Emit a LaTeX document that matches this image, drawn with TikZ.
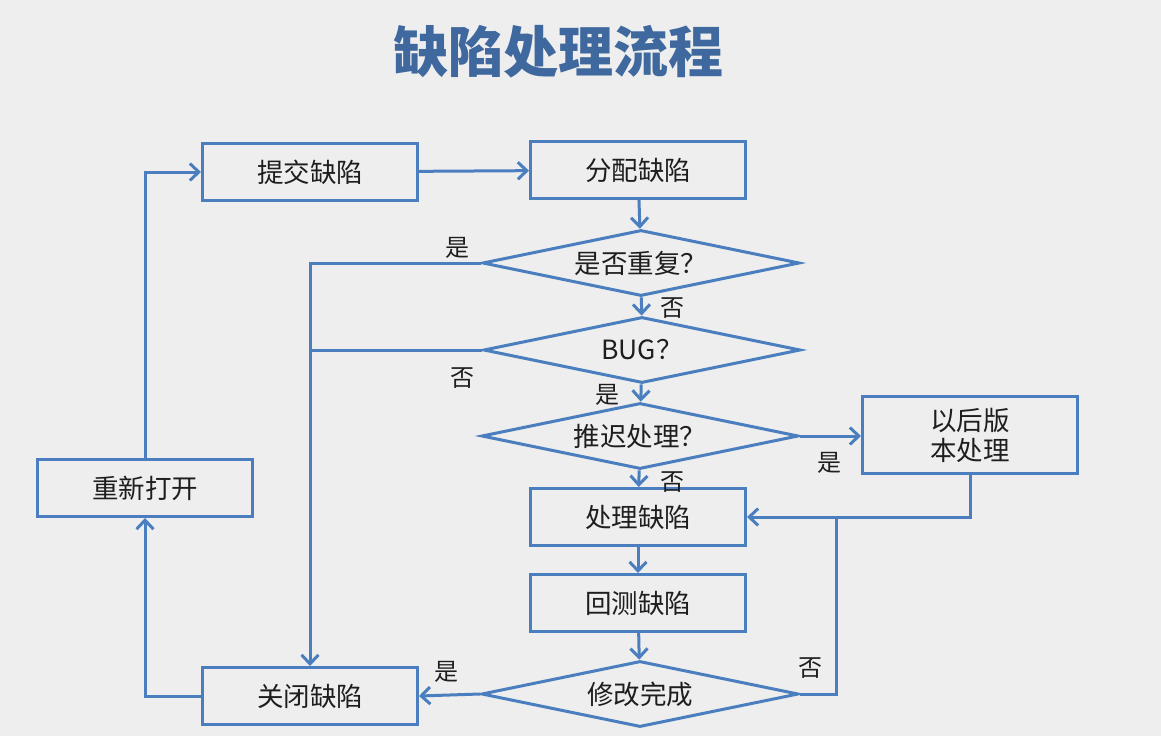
\documentclass[tikz,border=0pt]{standalone}
\usepackage{fontspec}
\setmainfont{Noto Sans CJK SC}
\usetikzlibrary{arrows.meta,shapes.geometric}
\definecolor{bg}{RGB}{238,238,238}
\definecolor{ln}{RGB}{74,126,190}
\definecolor{tt}{RGB}{62,104,158}
\definecolor{tx}{RGB}{30,30,30}
\tikzset{
  px/.style={x=1pt,y=-1pt},
  box/.style={draw=ln,line width=3pt,fill=bg,minimum width=215pt,minimum height=57pt,inner sep=0pt,font=\fontsize{26.5}{30}\selectfont,text=tx},
  dia/.style={diamond,draw=ln,line width=3pt,fill=bg,minimum width=317pt,minimum height=66pt,inner sep=0pt,shape aspect=4.7,font=\fontsize{26.5}{30}\selectfont,text=tx},
  ln/.style={draw=ln,line width=3pt},
  arr/.style={ln,-{Straight Barb[length=9pt,width=17pt]}},
  lab/.style={font=\fontsize{24}{26}\selectfont,text=tx,inner sep=0pt},
}
\begin{document}
\begin{tikzpicture}[px]
\fill[bg] (0,0) rectangle (1161,736);
\useasboundingbox (0,0) rectangle (1161,736);
\node[font=\fontsize{55}{60}\selectfont\bfseries,text=tt] (title) at (558,52) {缺陷处理流程};
\node[box] (tj) at (310,172) {提交缺陷};
\node[box] (fp) at (638,170) {分配缺陷};
\node[dia] (d1) at (641,263) {是否重复？};
\node[dia] (d2) at (642,350) {BUG？};
\node[dia] (d3) at (640,436) {推迟处理？};
\node[box,minimum height=77pt,align=center] (yh) at (970,435) {以后版\\本处理};
\node[box] (cl) at (638,517) {处理缺陷};
\node[box] (hc) at (638,603) {回测缺陷};
\node[dia] (d4) at (640,694) {修改完成};
\node[box] (gb) at (310,696) {关闭缺陷};
\node[box] (cx) at (145,488) {重新打开};
\coordinate (jn) at (836,517);
\draw[arr] (tj) -- (fp);
\draw[arr] (fp) -- (d1);
\draw[arr] (d1) -- (d2);
\draw[arr] (d1.west) -| (gb.north);
\draw[ln] (d2.west) -- (d2.west -| gb.north);
\draw[arr] (d2) -- (d3);
\draw[arr] (d3.east) -- (d3.east -| yh.west);
\draw[arr] (d3) -- (cl);
\draw[arr] (yh.south) |- (cl.east);
\draw[ln] (d4.east) -| (jn);
\draw[arr] (cl) -- (hc);
\draw[arr] (hc) -- (d4);
\draw[arr] (d4.west) -- (gb.east);
\draw[arr] (gb.west) -| (cx.south);
\draw[arr] (cx.north) |- (tj.west);
\node[lab] (l1) at (457,248) {是};
\node[lab] (l2) at (672,308) {否};
\node[lab] (l3) at (462,378) {否};
\node[lab] (l4) at (607,395) {是};
\node[lab] (l5) at (829,463) {是};
\node[lab] (l6) at (672,482) {否};
\node[lab] (l7) at (446,672) {是};
\node[lab] (l8) at (810,668) {否};
\end{tikzpicture}
\end{document}
